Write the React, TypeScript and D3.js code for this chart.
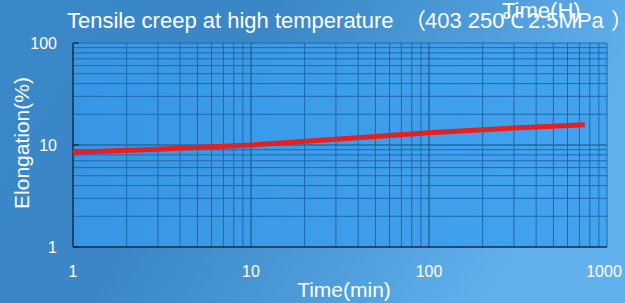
import React from "react";
import * as d3 from "d3";

const timeMin = [1, 3, 10, 30, 100, 300, 750];
const elongation = [8.5, 9.1, 10.0, 11.4, 13.2, 14.7, 15.8];
const xTicks = [1, 10, 100, 1000];
const yTicks = [1, 10, 100];
const titleMain = "Tensile creep at high temperature";
const titleParts = ["（", "403 250", "℃", "2.5MPa", "）"];
const xTitle = "Time(min)";
const yTitle = "Elongation(%)";
const topLabel = "Time(H)";

const W = 625, H = 303;
const M = { left: 73, right: 607, top: 43, bottom: 247 };

export default function App() {
  const x = d3.scaleLog().domain([1, 1000]).range([M.left, M.right]);
  const y = d3.scaleLog().domain([1, 100]).range([M.bottom, M.top]);
  const gridX: number[] = [];
  const gridY: number[] = [];
  for (let d = 1; d < 1000; d *= 10) for (let k = 1; k <= 10; k++) gridX.push(d * k);
  for (let d = 1; d < 100; d *= 10) for (let k = 1; k <= 10; k++) gridY.push(d * k);
  const line = d3.line<number>().x((_, i) => x(timeMin[i])).y((v) => y(v));
  const font = "'Liberation Sans', Arial, sans-serif";
  const cjk = "'Noto Sans CJK SC', sans-serif";
  const partX = [404, 425, 502, 528, 611];
  return (
    <svg width={W} height={H} style={{ position: "absolute", left: 0, top: 0 }} fontFamily={font}>
      <defs>
        <linearGradient id="bg" x1="0" y1="0" x2="1" y2="0.3">
          <stop offset="0" stopColor="#3b88c9" />
          <stop offset="0.4" stopColor="#3a86c6" />
          <stop offset="0.7" stopColor="#4c9ad8" />
          <stop offset="1" stopColor="#62b0ec" />
        </linearGradient>
        <linearGradient id="plot" x1="0" y1="0" x2="1" y2="0">
          <stop offset="0" stopColor="#3797e6" />
          <stop offset="1" stopColor="#42a3f0" />
        </linearGradient>
      </defs>
      <rect width={W} height={H} fill="url(#bg)" />
      <rect x={M.left} y={M.top} width={M.right - M.left} height={M.bottom - M.top} fill="url(#plot)" />
      {gridX.map((v, i) => (
        <line key={"gx" + i} x1={x(v)} x2={x(v)} y1={M.top} y2={M.bottom} stroke="#2466a4" strokeWidth={1} />
      ))}
      {gridY.map((v, i) => (
        <line key={"gy" + i} y1={y(v)} y2={y(v)} x1={M.left} x2={M.right} stroke="#2466a4" strokeWidth={1} />
      ))}
      <line x1={M.left} x2={M.left} y1={M.top} y2={M.bottom} stroke="#111" strokeWidth={1} />
      <line x1={M.left} x2={M.right} y1={M.bottom} y2={M.bottom} stroke="#111" strokeWidth={1} />
      {yTicks.map((v) => (
        <line key={"yt" + v} x1={M.left} x2={M.left + 6} y1={y(v)} y2={y(v)} stroke="#111" />
      ))}
      <path d={line(elongation) || ""} fill="none" stroke="#e42020" strokeWidth={5} />
      {yTicks.map((v) => (
        <text key={"yl" + v} x={57} y={y(v) + 6} textAnchor="end" fill="#fff" fontSize={16}>{v}</text>
      ))}
      {xTicks.map((v) => (
        <text key={"xl" + v} x={Math.min(x(v), 604)} y={277} textAnchor="middle" fill="#fff" fontSize={16}>{v}</text>
      ))}
      <text y={28} fill="#fff" fontSize={22}>
        <tspan x={67}>{titleMain}</tspan>
        {titleParts.map((p, i) => (
          <tspan key={i} x={partX[i]} fontFamily={i === 0 || i === 4 ? cjk : font}>{p}</tspan>
        ))}
      </text>
      <text x={502} y={18} fill="#fff" fontSize={22}>{topLabel}</text>
      <text x={344} y={297} textAnchor="middle" fill="#fff" fontSize={21}>{xTitle}</text>
      <text transform={`translate(29,${143}) rotate(-90)`} textAnchor="middle" fill="#fff" fontSize={21}>{yTitle}</text>
    </svg>
  );
}
